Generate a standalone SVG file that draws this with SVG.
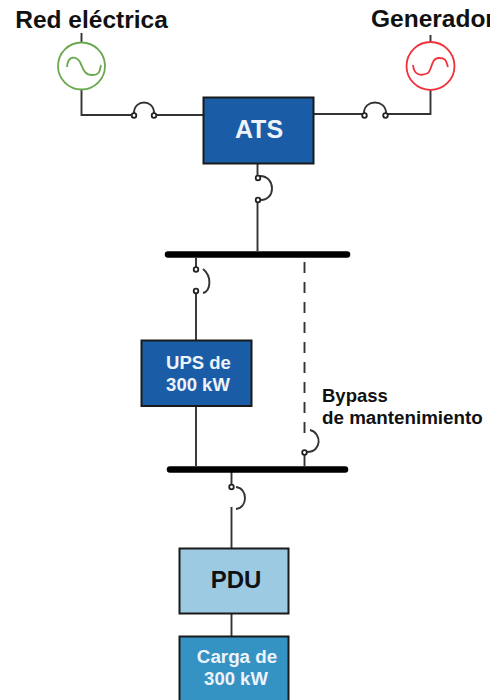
<svg xmlns="http://www.w3.org/2000/svg" width="490" height="700" viewBox="0 0 490 700">
<style>
text{font-family:"Liberation Sans",Arial,sans-serif;font-weight:bold;text-anchor:middle}
.w{stroke:#333;stroke-width:1.9;fill:none}
.c{stroke:#222;stroke-width:1.8;fill:#fff}
.bus{stroke:#000;stroke-width:6.5;stroke-linecap:round;fill:none}
.box{stroke:#1a1a1a;stroke-width:2}
.lbl{fill:#111}
.on{fill:#eef3fa}
.l{text-anchor:start}
</style>
<rect width="490" height="700" fill="#fff"/>
<g id="connectors">
<path class="w" d="M81.500 33V43M81.500 90V115H134M154 115H203"/>
<path class="w" d="M430.500 35V43M430.500 90V114H386M366 114H313"/>
<path class="w" d="M257.500 164V178M257.500 199V251"/>
<path class="w" d="M196 258V270M196 291V340M196 406V466"/>
<path class="w" d="M304.500 258V434" stroke-width="2.200" stroke-dasharray="11 9" stroke-dashoffset="16"/>
<path class="w" d="M304.500 452V466"/>
<path class="w" d="M231.500 472V486M231.500 507V548M231.500 613V636"/>
<g id="breaker-1"><path class="w" d="M134 113C134 99 154 99 154 113"/><circle class="c" cx="134" cy="115.500" r="2.300"/><circle class="c" cx="154" cy="115.500" r="2.300"/></g>
<g id="breaker-2"><path class="w" d="M364 113C364 99 386 99 386 113"/><circle class="c" cx="364.500" cy="115.500" r="2.300"/><circle class="c" cx="385.500" cy="115.500" r="2.300"/></g>
<g id="breaker-3"><path class="w" d="M260 176C276 176 276 201 260 200"/><circle class="c" cx="258" cy="178" r="2.300"/><circle class="c" cx="258" cy="200" r="2.300"/></g>
<g id="breaker-4"><path class="w" d="M203 269C212 276 211 291 203 293"/><circle class="c" cx="196" cy="269.500" r="2.300"/><circle class="c" cx="196" cy="291" r="2.300"/></g>
<g id="breaker-5"><path class="w" d="M310 430C322 433 322 452 307 452"/><circle class="c" cx="304.500" cy="452.500" r="2.300"/></g>
<g id="breaker-6"><path class="w" d="M236 487C248 488 248 508 236 509"/><circle class="c" cx="231.500" cy="487" r="2.300"/></g>
<path class="bus" d="M168 254.500H347"/>
<path class="bus" d="M170 469.500H345"/>
</g>
<g id="red-electrica">
<text class="lbl" x="91.500" y="28" font-size="24.500">Red eléctrica</text>
<circle cx="81.500" cy="66" r="23.500" fill="#fff" stroke="#6aa84f" stroke-width="1.800"/>
<path d="M67 67C68 55 76 56 80 62C83 68 84 75 92 75C100 75 100 70 101 65" fill="none" stroke="#6aa84f" stroke-width="1.800"/>
</g>
<g id="generador">
<text class="lbl l" x="371" y="27" font-size="24.500">Generador</text>
<circle cx="430.500" cy="66" r="24" fill="#fff" stroke="#f0323c" stroke-width="1.800"/>
<path d="M413 65C414 76 422 76 428 73C432 70 431 58 439 58C447 58 446 62 448 67" fill="none" stroke="#f0323c" stroke-width="1.800"/>
</g>
<g id="ats">
<rect class="box" x="203.500" y="97.500" width="110" height="66" fill="#1a5da6"/>
<text class="on" x="259" y="138" font-size="25">ATS</text>
</g>
<g id="ups">
<rect class="box" x="141.500" y="340.500" width="110" height="65.500" fill="#1a5da6"/>
<text class="on" x="198.500" y="369" font-size="18.500">UPS de</text>
<text class="on" x="198" y="391" font-size="18.500">300 kW</text>
</g>
<g id="bypass">
<text class="lbl l" x="322" y="402" font-size="18.500">Bypass</text>
<text class="lbl l" x="322" y="424" font-size="18.800">de mantenimiento</text>
</g>
<g id="pdu">
<rect class="box" x="179.500" y="548.500" width="109" height="65" fill="#9ccae3"/>
<text class="lbl" x="236" y="588" font-size="24">PDU</text>
</g>
<g id="carga">
<rect class="box" x="179.500" y="636.500" width="109" height="70" fill="#3593c4"/>
<text class="on" x="237" y="663" font-size="18.800">Carga de</text>
<text class="on" x="236" y="685" font-size="18.500">300 kW</text>
</g>
</svg>
